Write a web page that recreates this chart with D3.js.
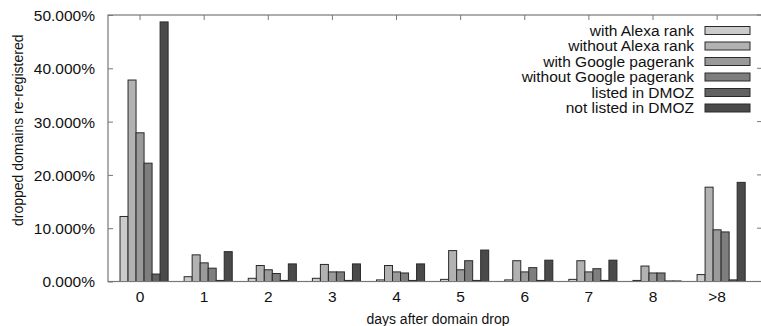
<!DOCTYPE html>
<html lang="en">
<head>
	<meta charset="UTF-8">
	<title>Dropped domains re-registered</title>
	<script src="https://cdn.jsdelivr.net/npm/d3@7"></script>
	<style>
		body { margin: 0; background: #fff; }
		svg text { font-family: "Liberation Sans", Arial, sans-serif; fill: #111; }
	</style>
</head>
<body>
<script type="text/javascript">
	// categories (days after drop) and one array per series, in percent
	var days = ['0', '1', '2', '3', '4', '5', '6', '7', '8', '>8'];
	var seriesNames = ['with Alexa rank', 'without Alexa rank', 'with Google pagerank',
		'without Google pagerank', 'listed in DMOZ', 'not listed in DMOZ'];
	var withAlexa      = [12.2, 0.9, 0.6, 0.6, 0.3, 0.4, 0.3, 0.4, 0.2, 1.3];
	var withoutAlexa   = [37.8, 5.0, 3.0, 3.2, 3.0, 5.8, 3.9, 3.9, 2.9, 17.7];
	var withPagerank   = [27.9, 3.5, 2.2, 1.8, 1.8, 2.2, 1.8, 1.8, 1.6, 9.7];
	var withoutPagerank= [22.2, 2.5, 1.5, 1.8, 1.6, 3.9, 2.6, 2.4, 1.6, 9.3];
	var inDmoz         = [1.4, 0.2, 0.2, 0.2, 0.2, 0.2, 0.2, 0.2, 0.1, 0.3];
	var notInDmoz      = [48.7, 5.6, 3.3, 3.3, 3.3, 5.9, 4.0, 4.0, 0.1, 18.6];
	var yTicks = [0, 10, 20, 30, 40, 50];

	var allSeries = [withAlexa, withoutAlexa, withPagerank, withoutPagerank, inDmoz, notInDmoz];
	var fills = ['#cbcbcb', '#b2b2b2', '#9a9a9a', '#7e7e7e', '#626262', '#4a4a4a'];

	var W = 761, H = 326;
	var plot = {left: 108, top: 15, right: 762, bottom: 281.5};

	var svg = d3.select('body').append('svg')
		.attr('width', W)
		.attr('height', H);

	var x = d3.scaleLinear().domain([-0.5, 9.7]).range([plot.left, plot.right]);
	var y = d3.scaleLinear().domain([0, 50]).range([plot.bottom, plot.top]);
	var barW = 0.125; // in category units

	// frame
	svg.append('rect')
		.attr('x', plot.left).attr('y', plot.top)
		.attr('width', plot.right - plot.left).attr('height', plot.bottom - plot.top)
		.attr('fill', 'none').attr('stroke', '#777').attr('stroke-width', 1.2);

	// y axis (left), ticks inward
	var yAxis = svg.append('g')
		.attr('transform', 'translate(' + plot.left + ',0)')
		.call(d3.axisLeft(y).tickValues(yTicks).tickSize(-5).tickPadding(13)
			.tickFormat(function (d) { return d3.format('.3f')(d) + '%'; }));
	yAxis.select('.domain').remove();
	yAxis.selectAll('line').attr('stroke', '#777');
	yAxis.selectAll('text').style('font-size', '15.5px').attr('dy', '0.35em');

	// mirrored ticks on the right
	svg.append('g').selectAll('line').data(yTicks).enter().append('line')
		.attr('x1', plot.right - 5).attr('x2', plot.right)
		.attr('y1', function (d) { return y(d); })
		.attr('y2', function (d) { return y(d); })
		.attr('stroke', '#777');

	// category ticks on the top border
	svg.append('g').selectAll('line').data(days).enter().append('line')
		.attr('x1', function (d, i) { return x(i); })
		.attr('x2', function (d, i) { return x(i); })
		.attr('y1', plot.top).attr('y2', plot.top + 5)
		.attr('stroke', '#777');

	// x tick labels
	svg.append('g').selectAll('text').data(days).enter().append('text')
		.attr('x', function (d, i) { return x(i); })
		.attr('y', 302)
		.attr('text-anchor', 'middle')
		.style('font-size', '15.5px')
		.text(function (d) { return d; });

	// bars
	allSeries.forEach(function (vals, s) {
		svg.append('g').selectAll('rect').data(vals).enter().append('rect')
			.attr('x', function (d, i) { return x(i + (s - 2.5) * barW); })
			.attr('width', x(barW) - x(0))
			.attr('y', function (d) { return y(d); })
			.attr('height', function (d) { return y(0) - y(d); })
			.attr('fill', fills[s])
			.attr('stroke', '#2a2a2a')
			.attr('stroke-width', 1);
	});

	// baseline over bars
	svg.append('line')
		.attr('x1', plot.left).attr('x2', plot.right)
		.attr('y1', plot.bottom).attr('y2', plot.bottom)
		.attr('stroke', '#777').attr('stroke-width', 1.2);

	// axis titles
	svg.append('text')
		.attr('transform', 'translate(23,' + ((plot.top + plot.bottom) / 2 - 18) + ') rotate(-90)')
		.attr('text-anchor', 'middle')
		.style('font-size', '14px')
		.text('dropped domains re-registered');
	svg.append('text')
		.attr('x', 438)
		.attr('y', 324)
		.attr('text-anchor', 'middle')
		.style('font-size', '14px')
		.text('days after domain drop');

	// legend
	var legend = svg.append('g').selectAll('g').data(seriesNames).enter().append('g')
		.attr('transform', function (d, i) { return 'translate(0,' + (30.5 + i * 15.5) + ')'; });
	legend.append('text')
		.attr('x', 694)
		.attr('dy', '0.35em')
		.attr('text-anchor', 'end')
		.style('font-size', '15.5px')
		.text(function (d) { return d; });
	legend.append('rect')
		.attr('x', 705).attr('y', -4)
		.attr('width', 45).attr('height', 8)
		.attr('fill', function (d, i) { return fills[i]; })
		.attr('stroke', '#2a2a2a');
</script>
</body>
</html>
